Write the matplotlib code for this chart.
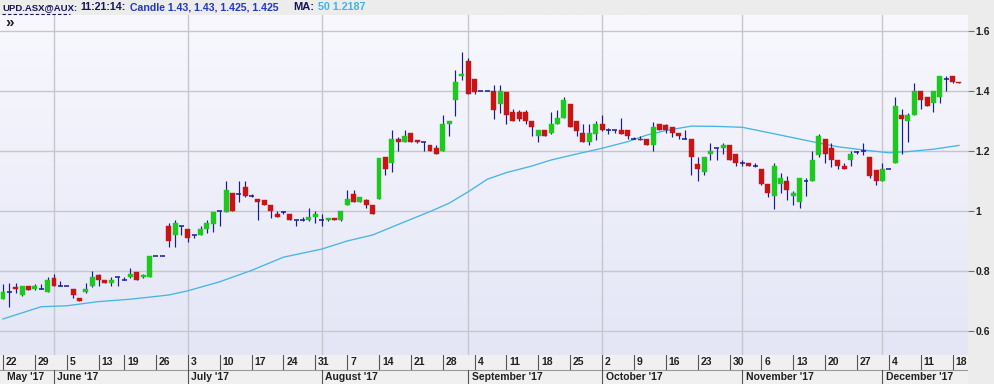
import matplotlib
matplotlib.use('Agg')
import matplotlib.pyplot as plt
from matplotlib.colors import LinearSegmentedColormap
import numpy as np
import pandas as pd

# ---------------- data ----------------
holidays = ['2017-06-12']
dates = pd.bdate_range('2017-05-22', '2017-12-19')
dates = dates[~dates.isin(pd.to_datetime(holidays))]

open_ = [
    0.705, 0.73, 0.745, 0.72, 0.75,
    0.74, 0.74, 0.73, 0.775, 0.75,
    0.75, 0.74, 0.71, 0.73, 0.75,
    0.785, 0.77, 0.76, 0.78, 0.77,
    0.78, 0.795, 0.78, 0.78, 0.85,
    0.85, 0.95, 0.92, 0.95, 0.94,
    0.92, 0.92, 0.94, 0.955, 1.0,
    0.995, 1.06, 1.055, 1.08, 1.05,
    1.04, 1.035, 1.02, 0.99, 0.995,
    0.99, 0.97, 0.97, 0.97, 0.98,
    0.97, 0.97, 0.975, 0.97, 1.02,
    1.055, 1.03, 1.035, 1.02, 1.04,
    1.18, 1.16, 1.24, 1.23, 1.26,
    1.235, 1.23, 1.22, 1.21, 1.2,
    1.29, 1.37, 1.45, 1.5, 1.44,
    1.4, 1.4, 1.4, 1.355, 1.395,
    1.33, 1.33, 1.33, 1.3, 1.25,
    1.27, 1.26, 1.29, 1.31, 1.355,
    1.3, 1.26, 1.23, 1.255, 1.29,
    1.27, 1.27, 1.27, 1.27, 1.24,
    1.24, 1.24, 1.22, 1.29, 1.285,
    1.28, 1.26, 1.24, 1.24, 1.155,
    1.13, 1.19, 1.21, 1.21, 1.22,
    1.19, 1.16, 1.16, 1.15, 1.14,
    1.09, 1.05, 1.09, 1.1, 1.05,
    1.03, 1.1, 1.1, 1.185, 1.24,
    1.21, 1.17, 1.15, 1.17, 1.195,
    1.2, 1.18, 1.135, 1.1, 1.14,
    1.16, 1.32, 1.3, 1.32, 1.4,
    1.38, 1.36, 1.38, 1.44, 1.45,
    1.43]

close = [
    0.73, 0.73, 0.74, 0.75, 0.735,
    0.75, 0.74, 0.77, 0.75, 0.75,
    0.75, 0.72, 0.70, 0.74, 0.78,
    0.77, 0.76, 0.77, 0.78, 0.77,
    0.79, 0.77, 0.785, 0.85, 0.85,
    0.85, 0.90, 0.96, 0.95, 0.91,
    0.92, 0.94, 0.96, 0.995, 1.0,
    1.07, 1.0, 1.055, 1.05, 1.05,
    1.03, 1.02, 1.0, 0.98, 0.995,
    0.97, 0.97, 0.97, 0.98, 0.99,
    0.97, 0.975, 0.97, 1.0, 1.04,
    1.03, 1.045, 1.02, 0.99, 1.175,
    1.14, 1.24, 1.23, 1.25, 1.23,
    1.23, 1.23, 1.2, 1.19, 1.29,
    1.3, 1.43, 1.455, 1.39, 1.395,
    1.4, 1.4, 1.335, 1.4, 1.32,
    1.3, 1.305, 1.3, 1.28, 1.27,
    1.25, 1.29, 1.31, 1.37, 1.28,
    1.265, 1.23, 1.26, 1.29, 1.27,
    1.27, 1.27, 1.255, 1.25, 1.24,
    1.235, 1.22, 1.28, 1.27, 1.27,
    1.26, 1.25, 1.24, 1.18, 1.14,
    1.18, 1.2, 1.21, 1.22, 1.17,
    1.16, 1.16, 1.15, 1.15, 1.09,
    1.06, 1.15, 1.11, 1.07, 1.06,
    1.11, 1.1, 1.17, 1.25, 1.19,
    1.17, 1.15, 1.14, 1.19, 1.195,
    1.2, 1.115, 1.1, 1.14, 1.14,
    1.35, 1.305, 1.32, 1.4, 1.37,
    1.35, 1.4, 1.45, 1.44, 1.43,
    1.425]

high = [
    0.755, 0.76, 0.76, 0.75, 0.75,
    0.755, 0.755, 0.78, 0.79, 0.765,
    0.75, 0.74, 0.71, 0.76, 0.80,
    0.79, 0.77, 0.78, 0.78, 0.78,
    0.81, 0.795, 0.79, 0.85, 0.85,
    0.85, 0.96, 0.97, 0.95, 0.94,
    0.92, 0.95, 0.97, 0.995, 1.0,
    1.10, 1.06, 1.10, 1.10, 1.055,
    1.04, 1.035, 1.02, 1.0, 1.0,
    0.99, 0.97, 0.98, 1.01, 1.0,
    0.99, 0.975, 0.975, 1.0, 1.07,
    1.07, 1.045, 1.04, 1.02, 1.175,
    1.18, 1.27, 1.245, 1.27, 1.26,
    1.235, 1.23, 1.22, 1.22, 1.32,
    1.30, 1.47, 1.53, 1.51, 1.44,
    1.4, 1.4, 1.42, 1.42, 1.395,
    1.34, 1.335, 1.335, 1.30, 1.27,
    1.27, 1.33, 1.335, 1.38, 1.355,
    1.30, 1.29, 1.29, 1.30, 1.32,
    1.275, 1.27, 1.31, 1.27, 1.245,
    1.25, 1.24, 1.295, 1.29, 1.29,
    1.28, 1.26, 1.27, 1.24, 1.18,
    1.18, 1.225, 1.21, 1.225, 1.22,
    1.19, 1.17, 1.16, 1.16, 1.14,
    1.09, 1.16, 1.125, 1.115, 1.065,
    1.11, 1.11, 1.20, 1.255, 1.24,
    1.225, 1.17, 1.16, 1.20, 1.20,
    1.225, 1.18, 1.135, 1.16, 1.14,
    1.38, 1.34, 1.325, 1.425, 1.40,
    1.38, 1.40, 1.45, 1.45, 1.45,
    1.43]

low = [
    0.705, 0.68, 0.725, 0.715, 0.735,
    0.735, 0.74, 0.73, 0.75, 0.75,
    0.75, 0.71, 0.70, 0.725, 0.745,
    0.75, 0.76, 0.75, 0.75, 0.77,
    0.775, 0.77, 0.775, 0.78, 0.85,
    0.85, 0.88, 0.88, 0.92, 0.895,
    0.91, 0.92, 0.925, 0.93, 0.95,
    0.995, 1.0, 1.03, 1.045, 1.045,
    0.97, 1.02, 0.975, 0.98, 0.99,
    0.97, 0.95, 0.965, 0.965, 0.96,
    0.95, 0.965, 0.97, 0.965, 1.02,
    1.03, 1.03, 1.01, 0.99, 1.04,
    1.12, 1.13, 1.2, 1.23, 1.23,
    1.225, 1.2, 1.2, 1.19, 1.2,
    1.25, 1.315, 1.435, 1.39, 1.39,
    1.4, 1.4, 1.305, 1.325, 1.29,
    1.30, 1.30, 1.29, 1.25, 1.23,
    1.25, 1.255, 1.29, 1.31, 1.28,
    1.25, 1.23, 1.22, 1.235, 1.265,
    1.255, 1.26, 1.255, 1.24, 1.24,
    1.235, 1.22, 1.20, 1.27, 1.26,
    1.245, 1.24, 1.24, 1.12, 1.10,
    1.12, 1.17, 1.17, 1.19, 1.17,
    1.15, 1.15, 1.15, 1.145, 1.085,
    1.045, 1.005, 1.06, 1.035, 1.02,
    1.01, 1.05, 1.10, 1.18, 1.16,
    1.145, 1.14, 1.14, 1.15, 1.19,
    1.185, 1.11, 1.085, 1.10, 1.14,
    1.16, 1.19, 1.23, 1.32, 1.34,
    1.35, 1.33, 1.36, 1.40, 1.425,
    1.425]

# 50-period moving average, read at candle indices
ma_idx = [0, 6, 10, 15, 20, 26, 29, 34, 39, 44, 50, 54, 58, 62, 67, 70, 73, 76,
          79, 83, 86, 90, 94, 98, 101, 104, 108, 112, 116, 122, 127, 131, 136,
          139, 142, 146, 150]
ma_val = [0.64, 0.681, 0.684, 0.698, 0.706, 0.72, 0.734, 0.764, 0.802, 0.846,
          0.873, 0.90, 0.92, 0.955, 0.998, 1.026, 1.064, 1.106, 1.128, 1.15,
          1.17, 1.19, 1.209, 1.231, 1.253, 1.268, 1.283, 1.282, 1.279, 1.253,
          1.231, 1.214, 1.201, 1.194, 1.198, 1.206, 1.2187]

y_ticks = [0.6, 0.8, 1.0, 1.2, 1.4, 1.6]
y_labels = ['0.6', '0.8', '1', '1.2', '1.4', '1.6']

# ---------------- figure ----------------
W, H = 994, 384
fig = plt.figure(figsize=(W / 100, H / 100), dpi=100, facecolor='#ececec')
FONT = ['Liberation Sans', 'DejaVu Sans']

n = len(dates)
o = np.array(open_); h = np.array(high); l = np.array(low); c = np.array(close)
idx = np.arange(n)

x0, x1 = -0.471, 151.42
y0, y1 = 0.52, 1.6533

ax = fig.add_axes([0, 29 / H, 968 / W, 340 / H])
ax.set_xlim(x0, x1)
ax.set_ylim(y0, y1)

cmap = LinearSegmentedColormap.from_list('bg', ['#e4e6f6', '#f8f8fe'])
ax.imshow(np.linspace(0, 1, 200).reshape(-1, 1), cmap=cmap, origin='lower',
          extent=[x0, x1, y0, y1], aspect='auto', zorder=0)

# grid
grid_c = '#c6c6cc'
for yv in y_ticks:
    ax.axhline(yv, color=grid_c, lw=1.0, zorder=1)
month_first = [i for i in range(1, n) if dates[i].month != dates[i - 1].month]
for i in month_first:
    ax.axvline(i, color=grid_c, lw=1.0, zorder=1)

# MA line
ax.plot(ma_idx, ma_val, color='#45b6e4', lw=0.95, zorder=2)

# candles
wick_c = '#1818a0'
green = '#1ec81e'
red = '#c81414'
flat = np.isclose(o, c)
up = (c > o) & ~flat
down = (c < o) & ~flat
ax.vlines(idx, l, h, color=wick_c, lw=0.85, zorder=3)
bw = 0.78
ax.bar(idx[up], (c - o)[up], bottom=o[up], width=bw, color=green,
       edgecolor=green, linewidth=0.3, zorder=4)
ax.bar(idx[down], (o - c)[down], bottom=c[down], width=bw, color=red,
       edgecolor=red, linewidth=0.3, zorder=4)
ax.hlines(o[flat], idx[flat] - bw / 2, idx[flat] + bw / 2, color=wick_c,
          lw=1.1, zorder=4)

for s in ax.spines.values():
    s.set_visible(False)
ax.set_xticks([])
ax.yaxis.tick_right()
ax.set_yticks(y_ticks)
ax.set_yticklabels(y_labels)
ax.tick_params(axis='y', direction='out', length=4, width=0.8, color='#707070',
               pad=1.5, labelsize=7.5, labelcolor='#202020')
for t in ax.get_yticklabels():
    t.set_fontweight('bold')
    t.set_family(FONT)

ax.text(0.005, 0.976, '\u00bb', transform=ax.transAxes, fontsize=11,
        fontweight='bold', color='#202020', va='center', ha='left', family=FONT)

# ---------------- date axis ----------------
dax = fig.add_axes([0, 0, 968 / W, 29 / H])
dax.set_xlim(x0, x1)
dax.set_ylim(0, 29)
dax.set_facecolor('#f0f0f0')
for s in dax.spines.values():
    s.set_visible(False)
dax.set_xticks([]); dax.set_yticks([])

iso = dates.isocalendar()
week_first = [0] + [i for i in range(1, n) if iso.week.iloc[i] != iso.week.iloc[i - 1]]
week_labels = [str(dates[i].day) for i in week_first]
sep_c = '#555555'
dax.axhline(14.5, color='#9a9a9a', lw=0.8)
for i, lab in zip(week_first, week_labels):
    dax.plot([i, i], [15, 29], color=sep_c, lw=0.8)
    dax.text(i + 0.45, 22, lab, fontsize=7.5, fontweight='bold', color='#202020',
             va='center', ha='left', family=FONT)

month_pos = [0] + month_first
month_labels = [dates[i].strftime("%B '%y") for i in month_pos]
for i, lab in zip(month_pos, month_labels):
    if i > 0:
        dax.plot([i, i], [0, 14.5], color=sep_c, lw=0.8)
    dax.text(i + 0.55, 7.2, lab, fontsize=7.5, fontweight='bold', color='#202020',
             va='center', ha='left', family=FONT)

# ---------------- title bar ----------------
ty = 1 - 7.5 / H
navy = '#14145a'
renderer = fig.canvas.get_renderer()


def fit_text(x_px, w_px, s, color, size=7.6, fam=FONT):
    t = fig.text(x_px / W, ty, s, fontsize=size, fontweight='bold', color=color,
                 va='center', ha='left', family=fam)
    bb = t.get_window_extent(renderer=renderer)
    if bb.width > 0:
        t.set_fontsize(size * w_px / bb.width)
    return t


fit_text(2, 74, 'UPD.ASX@AUX:', navy)
fig.add_artist(plt.Line2D([2 / W, 70 / W], [1 - 13.5 / H, 1 - 13.5 / H], color=navy,
                          lw=0.8, ls=(0, (3, 2))))
fit_text(80, 45, '11:21:14:', navy)
fit_text(130, 147, 'Candle 1.43, 1.43, 1.425, 1.425', '#2238c0')
fit_text(293, 21, 'MA:', navy)
fit_text(318, 47, '50 1.2187', '#3cb4e8')

fig.savefig('out.png', dpi=100, facecolor=fig.get_facecolor())
